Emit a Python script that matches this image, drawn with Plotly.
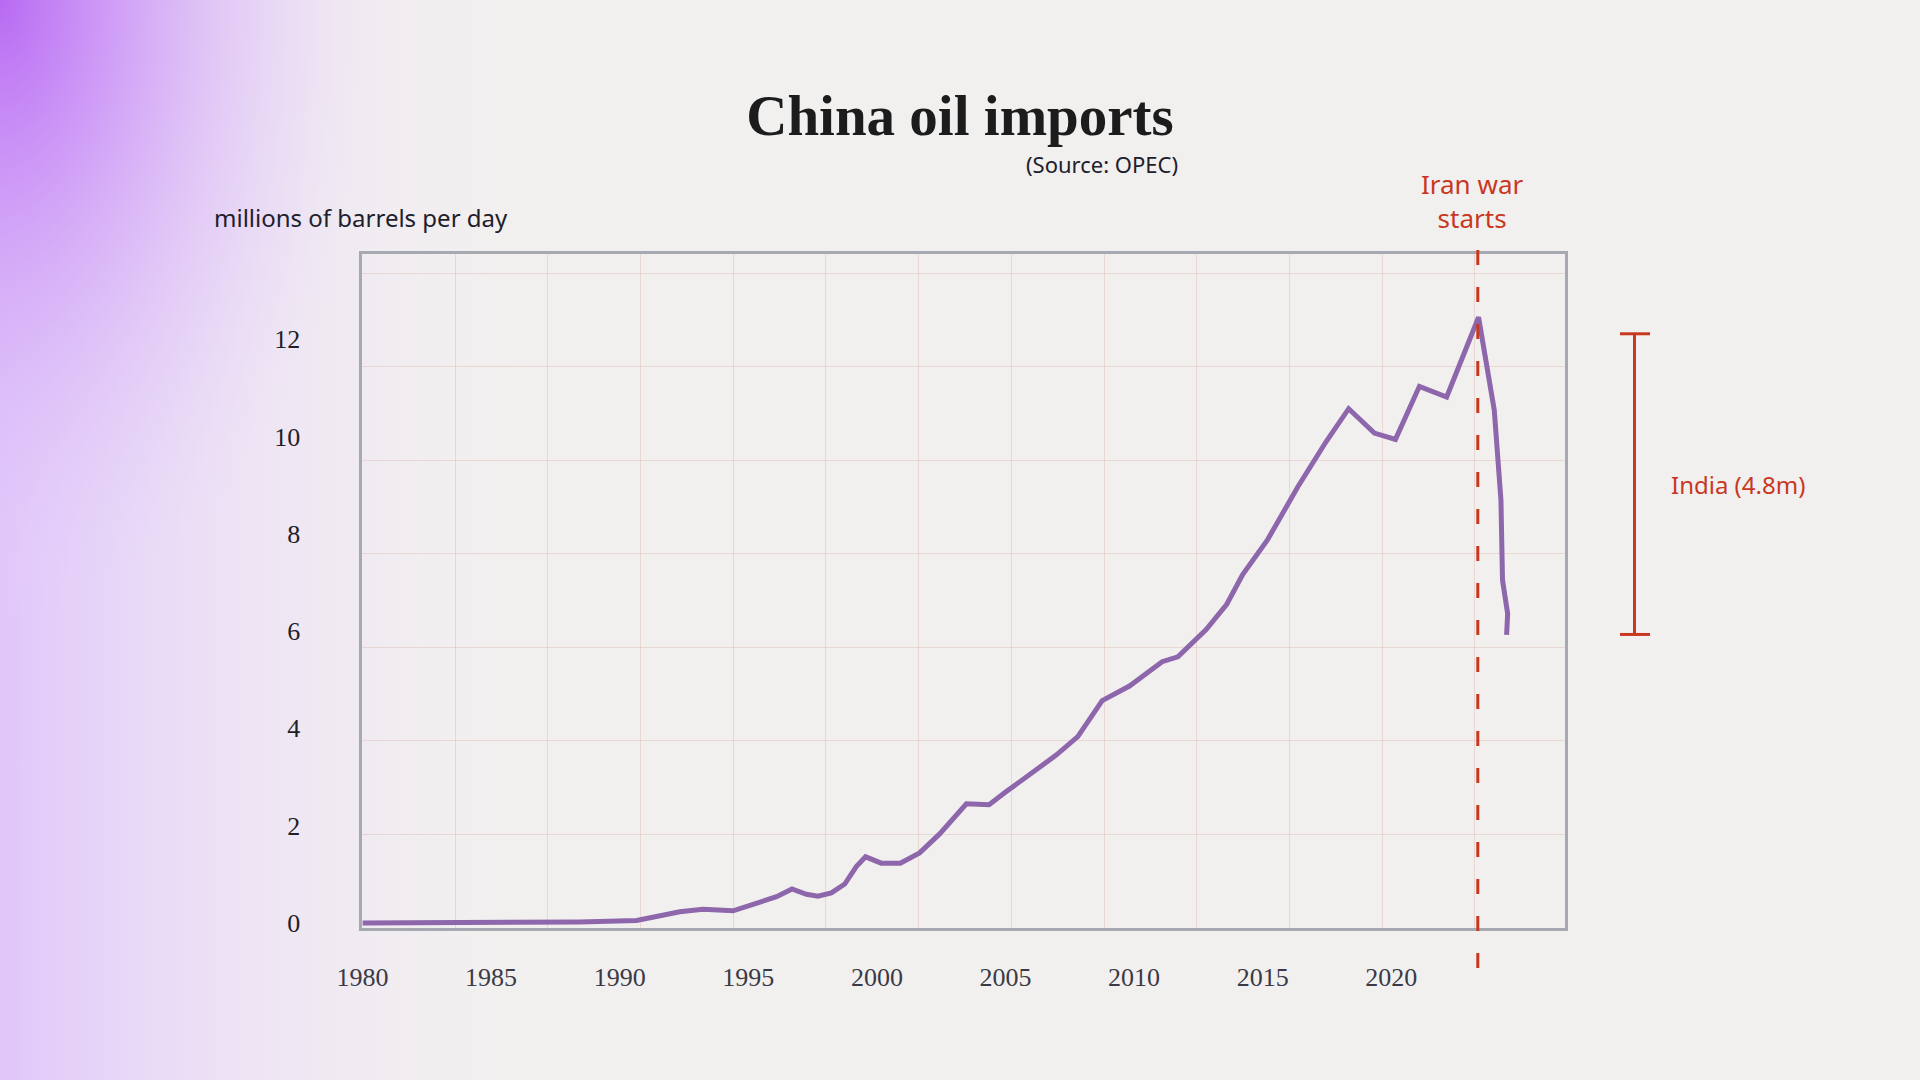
import base64
import plotly.graph_objects as go

# China oil imports, millions of barrels per day
years = [1980, 1985, 1988.45, 1990.66, 1992.34, 1993.24, 1994.41, 1996.10, 1996.70,
         1997.26, 1997.71, 1998.23, 1998.75, 1999.20, 1999.56, 2000.17, 2000.91,
         2001.66, 2002.44, 2003.48, 2004.36, 2005.03, 2005.94, 2006.97, 2007.81,
         2008.76, 2009.82, 2011.09, 2011.70, 2012.80, 2013.60, 2014.22, 2015.19,
         2016.36, 2017.46, 2018.34, 2019.34, 2020.16, 2021.09, 2022.15, 2023.39,
         2024.00, 2024.26, 2024.32, 2024.52, 2024.48]
imports = [0.0, 0.01, 0.02, 0.05, 0.23, 0.28, 0.25, 0.54, 0.70,
           0.59, 0.55, 0.62, 0.80, 1.16, 1.36, 1.23, 1.23,
           1.44, 1.83, 2.45, 2.43, 2.70, 3.04, 3.45, 3.83,
           4.57, 4.87, 5.37, 5.47, 6.03, 6.55, 7.16, 7.88,
           8.96, 9.89, 10.57, 10.07, 9.94, 11.03, 10.81, 12.45,
           10.54, 8.69, 7.05, 6.36, 5.92]

x_ticks = [1980, 1985, 1990, 1995, 2000, 2005, 2010, 2015, 2020]
y_ticks = [0, 2, 4, 6, 8, 10, 12]

war_start = 2023.36
india_top = 12.11
india_bottom = 5.93

RED = "#c8381f"
PURPLE = "#8d66ab"
HAND = "Comic Sans MS, Noto Sans, sans-serif"
SERIF = "Liberation Serif, Times New Roman, serif"
W, H = 1920, 1080

# background wash (purple glow in the top-left corner)
svg = """<svg xmlns="http://www.w3.org/2000/svg" width="1920" height="1080" viewBox="0 0 1920 1080" preserveAspectRatio="none">
<defs>
<linearGradient id="lg" x1="0" y1="0" x2="560" y2="0" gradientUnits="userSpaceOnUse">
<stop offset="0" stop-color="#e0c6fb" stop-opacity="1"/>
<stop offset="0.45" stop-color="#ebdcf8" stop-opacity="0.6"/>
<stop offset="1" stop-color="#f2f0ef" stop-opacity="0"/>
</linearGradient>
<radialGradient id="rg" cx="0" cy="0" r="620" gradientUnits="userSpaceOnUse" gradientTransform="scale(0.6,1)">
<stop offset="0" stop-color="#b86af2" stop-opacity="1"/>
<stop offset="0.3" stop-color="#c98ff6" stop-opacity="0.8"/>
<stop offset="1" stop-color="#e6d4f8" stop-opacity="0"/>
</radialGradient>
</defs>
<rect width="1920" height="1080" fill="#f2f0ef"/>
<rect width="1920" height="1080" fill="url(#lg)"/>
<rect width="1920" height="1080" fill="url(#rg)"/>
</svg>"""
bg_uri = "data:image/svg+xml;base64," + base64.b64encode(svg.encode()).decode()

fig = go.Figure()
fig.add_trace(go.Scatter(x=years, y=imports, mode="lines",
                         line=dict(color=PURPLE, width=5), showlegend=False,
                         hoverinfo="skip"))

grid = "rgba(214,168,160,0.35)"
fig.update_layout(
    width=W, height=H,
    margin=dict(l=0, r=0, t=0, b=0),
    paper_bgcolor="#f2f0ef",
    plot_bgcolor="rgba(0,0,0,0)",
    title=dict(text="China oil imports", x=0.5, xanchor="center",
               y=1 - 115 / H, yanchor="middle",
               font=dict(family=SERIF, size=57, color="#1c1c1c", weight=700)),
    xaxis=dict(domain=[362.4 / W, 1565 / W], range=[1980, 2026.75],
               tickmode="array", tickvals=x_ticks, ticktext=[str(t) for t in x_ticks],
               showgrid=False, zeroline=False, ticks="", automargin=False,
               showline=True, mirror=True, linecolor="#a6a9b1", linewidth=3,
               ticklabelstandoff=24,
               tickfont=dict(family=SERIF, size=26, color="#3a3a46"),
               minor=dict(tickmode="linear", tick0=1980, dtick=3.604,
                          showgrid=True, gridcolor=grid, gridwidth=1, ticklen=0)),
    yaxis=dict(domain=[1 - 927.7 / H, 1 - 253.5 / H], range=[-0.097, 13.76],
               tickmode="array", tickvals=y_ticks, ticktext=[str(t) for t in y_ticks],
               showgrid=False, zeroline=False, ticks="", automargin=False,
               showline=True, mirror=True, linecolor="#a6a9b1", linewidth=3,
               ticklabelstandoff=54,
               tickfont=dict(family=SERIF, size=26, color="#1f1f2a"),
               minor=dict(tickmode="linear", tick0=-0.097, dtick=1.922,
                          showgrid=True, gridcolor=grid, gridwidth=1, ticklen=0)),
    images=[dict(source=bg_uri, xref="paper", yref="paper", x=0, y=1,
                 sizex=1, sizey=1, xanchor="left", yanchor="top",
                 sizing="stretch", layer="below")],
)

# war start marker
fig.add_shape(type="line", xref="x", yref="paper", x0=war_start, x1=war_start,
              y0=1 - 968 / H, y1=1 - 243 / H,
              line=dict(color=RED, width=3, dash="15px,22px"), layer="above")
fig.add_annotation(x=war_start, xref="x", y=1 - 201 / H, yref="paper", xshift=-6,
                   xanchor="center", yanchor="middle",
                   text="Iran war<br>starts", showarrow=False,
                   font=dict(family=HAND, size=26, color=RED))

# India bracket on the right
bx, cap0, cap1 = 1634.5 / W, 1620 / W, 1650 / W
for y0, y1, x0, x1 in [(india_bottom, india_top, bx, bx),
                       (india_top, india_top, cap0, cap1),
                       (india_bottom, india_bottom, cap0, cap1)]:
    fig.add_shape(type="line", xref="paper", yref="y", x0=x0, x1=x1, y0=y0, y1=y1,
                  line=dict(color=RED, width=3))
fig.add_annotation(x=1669 / W, xref="paper", y=(india_top + india_bottom) / 2, yref="y",
                   xanchor="left", yanchor="middle", text="India (4.8m)", showarrow=False,
                   font=dict(family=HAND, size=24, color=RED))

# labels
fig.add_annotation(x=212 / W, xref="paper", y=1 - 218 / H, yref="paper",
                   xanchor="left", yanchor="middle",
                   text="millions of barrels per day", showarrow=False,
                   font=dict(family=HAND, size=24, color="#20202c"))
fig.add_annotation(x=1180 / W, xref="paper", y=1 - 164 / H, yref="paper",
                   xanchor="right", yanchor="middle",
                   text="(Source: OPEC)", showarrow=False,
                   font=dict(family=HAND, size=22, color="#20202c"))

fig.write_html("out.html", config={"displayModeBar": False},
               post_script="document.body.style.margin='0';")
